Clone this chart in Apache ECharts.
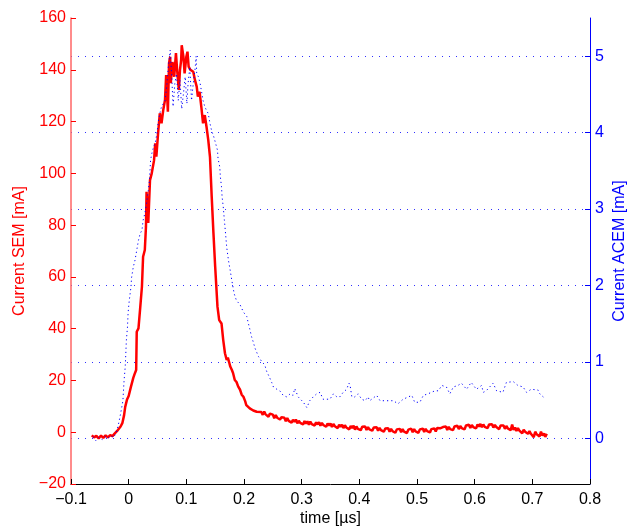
<!DOCTYPE html>
<html>
<head>
<meta charset="UTF-8">
<title>SEM / ACEM current</title>
<script src="https://cdn.jsdelivr.net/npm/echarts@6/dist/echarts.min.js"></script>
</head>
<body style="margin:0">
<div id="chart" style="width:637px;height:527px;"></div>
<script>
// SEM current [mA], left axis (red solid)
var semTime = [-0.064, -0.060, -0.056, -0.052, -0.048, -0.044, -0.040, -0.036, -0.032, -0.028,
    -0.024, -0.020, -0.017, -0.014, -0.011, -0.008, -0.006, -0.003, 0.000, 0.004,
    0.008, 0.011, 0.013, 0.014, 0.017, 0.020, 0.023, 0.025, 0.028, 0.030,
    0.031, 0.034, 0.037, 0.040, 0.044, 0.046, 0.048, 0.051, 0.054, 0.057,
    0.060, 0.063, 0.065, 0.068, 0.070, 0.072, 0.073, 0.076, 0.079, 0.082,
    0.084, 0.087, 0.089, 0.091, 0.092, 0.095, 0.097, 0.100, 0.102, 0.104,
    0.107, 0.112, 0.115, 0.118, 0.120, 0.123, 0.126, 0.129, 0.132, 0.135,
    0.138, 0.141, 0.144, 0.147, 0.150, 0.154, 0.157, 0.161, 0.164, 0.167,
    0.170, 0.172, 0.174, 0.176, 0.179, 0.181, 0.184, 0.187, 0.190, 0.193,
    0.196, 0.199, 0.202, 0.204, 0.207, 0.210, 0.213, 0.216, 0.219, 0.222, 0.225,
    0.2300, 0.2325, 0.2350, 0.2375, 0.2400, 0.2425, 0.2450, 0.2475,
    0.2500, 0.2525, 0.2550, 0.2575, 0.2600, 0.2625, 0.2650, 0.2675,
    0.2700, 0.2725, 0.2750, 0.2775, 0.2800, 0.2825, 0.2850, 0.2875,
    0.2900, 0.2925, 0.2950, 0.2975, 0.3000, 0.3025, 0.3050, 0.3075,
    0.3100, 0.3125, 0.3150, 0.3175, 0.3200, 0.3225, 0.3250, 0.3275,
    0.3300, 0.3325, 0.3350, 0.3375, 0.3400, 0.3425, 0.3450, 0.3475,
    0.3500, 0.3525, 0.3550, 0.3575, 0.3600, 0.3625, 0.3650, 0.3675,
    0.3700, 0.3725, 0.3750, 0.3775, 0.3800, 0.3825, 0.3850, 0.3875,
    0.3900, 0.3925, 0.3950, 0.3975, 0.4000, 0.4025, 0.4050, 0.4075,
    0.4100, 0.4125, 0.4150, 0.4175, 0.4200, 0.4225, 0.4250, 0.4275,
    0.4300, 0.4325, 0.4350, 0.4375, 0.4400, 0.4425, 0.4450, 0.4475,
    0.4500, 0.4525, 0.4550, 0.4575, 0.4600, 0.4625, 0.4650, 0.4675,
    0.4700, 0.4725, 0.4750, 0.4775, 0.4800, 0.4825, 0.4850, 0.4875,
    0.4900, 0.4925, 0.4950, 0.4975, 0.5000, 0.5025, 0.5050, 0.5075,
    0.5100, 0.5125, 0.5150, 0.5175, 0.5200, 0.5225, 0.5250, 0.5275,
    0.5300, 0.5325, 0.5350, 0.5375, 0.5400, 0.5425, 0.5450, 0.5475,
    0.5500, 0.5525, 0.5550, 0.5575, 0.5600, 0.5625, 0.5650, 0.5675,
    0.5700, 0.5725, 0.5750, 0.5775, 0.5800, 0.5825, 0.5850, 0.5875,
    0.5900, 0.5925, 0.5950, 0.5975, 0.6000, 0.6025, 0.6050, 0.6075,
    0.6100, 0.6125, 0.6150, 0.6175, 0.6200, 0.6225, 0.6250, 0.6275,
    0.6300, 0.6325, 0.6350, 0.6375, 0.6400, 0.6425, 0.6450, 0.6475,
    0.6500, 0.6525, 0.6550, 0.6575, 0.6600, 0.6625, 0.6650, 0.6675,
    0.6700, 0.6725, 0.6750, 0.6775, 0.6800, 0.6825, 0.6850, 0.6875,
    0.6900, 0.6925, 0.6950, 0.6975, 0.7000, 0.7025, 0.7050, 0.7075,
    0.7100, 0.7125, 0.7150, 0.7175, 0.7200, 0.7225, 0.7250];
var semValues = [-1.2, -2.0, -1.4, -2.4, -1.3, -2.2, -1.2, -2.0, -1.1, -1.5,
    -0.4, 0.5, 1.0, 2.2, 3.5, 6.5, 9.8, 12.5, 14.0, 17.6,
    21.0, 22.9, 24.0, 38.8, 40.1, 48.0, 56.2, 67.8, 70.4, 79.4,
    92.9, 80.8, 97.4, 100.0, 105.0, 111.6, 106.4, 115.4, 123.2, 119.3,
    124.5, 128.3, 138.0, 123.8, 142.5, 145.0, 134.8, 143.0, 137.3, 146.4,
    140.0, 132.2, 140.0, 143.7, 149.5, 145.0, 138.6, 145.0, 147.0, 141.2,
    140.0, 139.2, 136.0, 133.5, 129.6, 131.5, 125.7, 119.3, 122.5, 118.0,
    112.9, 106.4, 91.0, 77.0, 64.0, 48.5, 43.3, 42.0, 35.6, 30.5,
    27.9, 28.8, 27.2, 25.5, 24.0, 22.9, 20.2, 19.4, 17.6, 16.5,
    14.5, 13.7, 12.0, 10.5, 10.9, 9.2, 9.6, 8.4, 9.0, 7.9, 8.3,
    7.8, 6.7, 8.0, 6.9, 6.8, 6.0, 7.2, 6.5,
    6.8, 5.4, 6.6, 5.6, 5.9, 4.9, 5.8, 5.1,
    5.6, 4.2, 5.5, 4.4, 4.6, 3.7, 4.8, 4.0,
    4.9, 3.4, 4.4, 3.6, 4.0, 3.0, 4.3, 3.3,
    4.2, 2.9, 4.1, 3.1, 3.4, 2.6, 3.8, 3.0,
    3.9, 2.5, 3.6, 2.8, 3.0, 2.1, 3.4, 2.6,
    3.4, 2.0, 3.2, 2.3, 2.5, 1.6, 2.9, 2.1,
    2.9, 1.6, 2.7, 1.8, 2.0, 1.1, 2.4, 1.6,
    2.5, 1.0, 2.2, 1.3, 1.6, 0.8, 2.1, 1.4,
    2.2, 0.9, 2.0, 1.1, 1.3, 0.6, 1.8, 1.2,
    1.9, 0.6, 1.7, 0.8, 1.0, 0.2, 1.4, 0.8,
    1.5, 0.2, 1.3, 0.4, 0.6, -0.2, 1.1, 0.4,
    1.3, 0.0, 1.2, 0.2, 0.5, -0.3, 1.0, 0.3,
    1.4, 0.0, 1.2, 0.3, 0.5, -0.2, 1.1, 0.5,
    1.4, 0.1, 1.3, 0.4, 0.7, -0.1, 1.2, 0.5,
    1.5, 0.3, 1.6, 0.9, 1.5, 0.8, 2.0, 1.3,
    2.2, 0.9, 2.1, 1.2, 1.5, 0.8, 2.2, 1.5,
    2.5, 1.2, 2.4, 1.6, 1.9, 1.1, 2.6, 1.9,
    2.9, 1.6, 2.8, 2.0, 2.3, 1.5, 3.0, 2.2,
    3.2, 1.9, 3.0, 2.1, 2.5, 1.6, 3.0, 2.3,
    3.1, 1.8, 2.8, 2.0, 2.2, 1.2, 2.6, 1.9,
    2.6, 1.3, 2.4, 1.5, 1.7, 0.8, 3.0, 0.9,
    1.8, 0.5, 1.6, 0.6, 0.8, -0.4, 1.0, 0.2,
    0.8, -0.6, 0.4, -0.6, 0.0, -1.9, 0.2, -0.8,
    -0.1, -1.6, 0.2, -1.3, -0.5, -1.8, -0.6];

// ACEM current [mA], right axis (blue dotted)
var acemTime = [-0.062, -0.057, -0.052, -0.046, -0.041, -0.036, -0.031, -0.026, -0.021, -0.018,
    -0.014, -0.010, -0.008, -0.006, -0.005, -0.004, -0.002, -0.001, 0.001, 0.004,
    0.005, 0.008, 0.011, 0.014, 0.017, 0.020, 0.023, 0.025, 0.028, 0.031,
    0.034, 0.036, 0.037, 0.038, 0.040, 0.043, 0.046, 0.049, 0.051, 0.054,
    0.057, 0.060, 0.063, 0.066, 0.069, 0.072, 0.075, 0.077, 0.080, 0.083,
    0.086, 0.089, 0.092, 0.095, 0.098, 0.101, 0.103, 0.106, 0.109, 0.112,
    0.115, 0.117, 0.118, 0.121, 0.124, 0.127, 0.129, 0.132, 0.135, 0.138,
    0.141, 0.144, 0.147, 0.150, 0.154, 0.155, 0.158, 0.159, 0.161, 0.162,
    0.164, 0.166, 0.168, 0.170, 0.173, 0.176, 0.179, 0.183, 0.187, 0.193,
    0.199, 0.205, 0.207, 0.210, 0.213, 0.216, 0.219, 0.225, 0.231, 0.236,
    0.239, 0.244, 0.248, 0.251, 0.257, 0.262, 0.268, 0.274, 0.280, 0.285,
    0.288, 0.294, 0.303, 0.309, 0.314, 0.320, 0.326, 0.332, 0.337, 0.343,
    0.349, 0.355, 0.361, 0.366, 0.372, 0.378, 0.382, 0.384, 0.387, 0.392,
    0.398, 0.404, 0.410, 0.415, 0.418, 0.430, 0.436, 0.447, 0.459, 0.467,
    0.476, 0.485, 0.491, 0.496, 0.505, 0.511, 0.519, 0.525, 0.531, 0.537,
    0.543, 0.551, 0.557, 0.563, 0.571, 0.577, 0.586, 0.594, 0.603, 0.612,
    0.615, 0.620, 0.632, 0.638, 0.649, 0.655, 0.667, 0.675, 0.684, 0.690,
    0.698, 0.710, 0.713, 0.719, 0.722];
var acemValues = [0.02, -0.03, 0.01, -0.02, 0.02, 0.00, 0.03, 0.01, 0.08, 0.17,
    0.32, 0.49, 0.75, 0.93, 1.10, 1.28, 1.46, 1.64, 1.80, 1.98,
    2.10, 2.24, 2.33, 2.46, 2.59, 2.68, 2.72, 2.85, 2.94, 3.07,
    3.24, 3.37, 3.50, 3.64, 3.72, 3.81, 3.86, 3.99, 4.12, 4.25,
    4.34, 4.38, 4.42, 4.60, 4.88, 5.08, 4.69, 4.34, 4.64, 4.77,
    4.42, 4.69, 4.31, 4.51, 4.73, 4.38, 4.64, 4.86, 4.42, 4.64,
    4.82, 5.00, 4.77, 4.73, 4.64, 4.51, 4.42, 4.34, 4.29, 4.25,
    4.12, 4.02, 3.96, 3.88, 3.77, 3.66, 3.55, 3.42, 3.29, 3.16,
    3.03, 2.85, 2.68, 2.50, 2.33, 2.20, 2.06, 1.89, 1.80, 1.75,
    1.65, 1.59, 1.52, 1.43, 1.33, 1.26, 1.18, 1.07, 1.00, 0.96,
    0.88, 0.80, 0.73, 0.67, 0.64, 0.62, 0.56, 0.54, 0.58, 0.56,
    0.65, 0.54, 0.47, 0.40, 0.49, 0.54, 0.58, 0.60, 0.51, 0.51,
    0.51, 0.58, 0.54, 0.54, 0.60, 0.64, 0.72, 0.69, 0.54, 0.54,
    0.58, 0.51, 0.49, 0.54, 0.49, 0.56, 0.49, 0.49, 0.49, 0.45,
    0.51, 0.54, 0.56, 0.47, 0.47, 0.56, 0.58, 0.60, 0.62, 0.62,
    0.69, 0.67, 0.58, 0.67, 0.69, 0.72, 0.64, 0.73, 0.64, 0.69,
    0.60, 0.62, 0.72, 0.62, 0.60, 0.73, 0.74, 0.69, 0.67, 0.60,
    0.64, 0.63, 0.58, 0.54, 0.51];

var acemTicks = [0, 1, 2, 3, 4, 5];

function pairs(t, v) {
    return t.map(function (x, i) { return [x, v[i]]; });
}
// MATLAB prints a real minus sign
function minus(v) {
    return String(v).replace('-', '\u2212');
}

var font = 'Liberation Sans, Arial, Helvetica, sans-serif';
var mChart = echarts.init(document.getElementById('chart'));

var option = {
    animation: false,
    textStyle: { fontFamily: font },
    grid: { left: 71, right: 47, top: 18, bottom: 43, outerBoundsMode: 'none' },
    xAxis: {
        type: 'value',
        min: -0.1,
        max: 0.8,
        interval: 0.1,
        name: 'time [\u00b5s]',
        nameLocation: 'middle',
        nameGap: 27,
        nameMoveOverlap: false,
        nameTextStyle: { color: '#000', fontSize: 16, fontFamily: font },
        axisLine: { onZero: false, lineStyle: { color: '#000', width: 1 } },
        axisTick: { inside: true, length: 5, lineStyle: { color: '#000' } },
        axisLabel: { color: '#000', fontSize: 16, margin: 8, formatter: minus },
        splitLine: { show: false }
    },
    yAxis: [
        {
            type: 'value',
            position: 'left',
            min: -20,
            max: 160,
            interval: 20,
            name: 'Current SEM [mA]',
            nameLocation: 'middle',
            nameGap: 43,
            nameMoveOverlap: false,
            nameTextStyle: { color: '#ff0000', fontSize: 16, fontFamily: font },
            axisLine: { show: true, onZero: false, lineStyle: { color: '#ff6666', width: 1.5 } },
            axisTick: { show: true, inside: true, length: 5, lineStyle: { color: '#ff0000' } },
            axisLabel: { color: '#ff0000', fontSize: 16, margin: 5, formatter: minus },
            splitLine: { show: false }
        },
        {
            type: 'value',
            position: 'right',
            min: -0.6,
            max: 5.5,
            name: 'Current ACEM [mA]',
            nameLocation: 'middle',
            nameGap: 22,
            nameMoveOverlap: false,
            nameTextStyle: { color: '#0000ff', fontSize: 16, fontFamily: font },
            axisLine: { show: true, onZero: false, lineStyle: { color: '#0000ff', width: 1 } },
            axisTick: { show: true, inside: true, length: 5, customValues: acemTicks, lineStyle: { color: '#0000ff' } },
            axisLabel: { color: '#0000ff', fontSize: 16, margin: 5, customValues: acemTicks },
            splitLine: { show: true, lineStyle: { color: '#3030ff', width: 1, type: [1, 6] } }
        }
    ],
    series: [
        {
            name: 'SEM',
            type: 'line',
            yAxisIndex: 0,
            data: pairs(semTime, semValues),
            showSymbol: false,
            lineStyle: { color: '#ff0000', width: 2.5 }
        },
        {
            name: 'ACEM',
            type: 'line',
            yAxisIndex: 1,
            data: pairs(acemTime, acemValues),
            showSymbol: false,
            lineStyle: { color: '#0000ff', width: 1, type: [1.2, 3] }
        }
    ]
};
mChart.setOption(option);
</script>
</body>
</html>
